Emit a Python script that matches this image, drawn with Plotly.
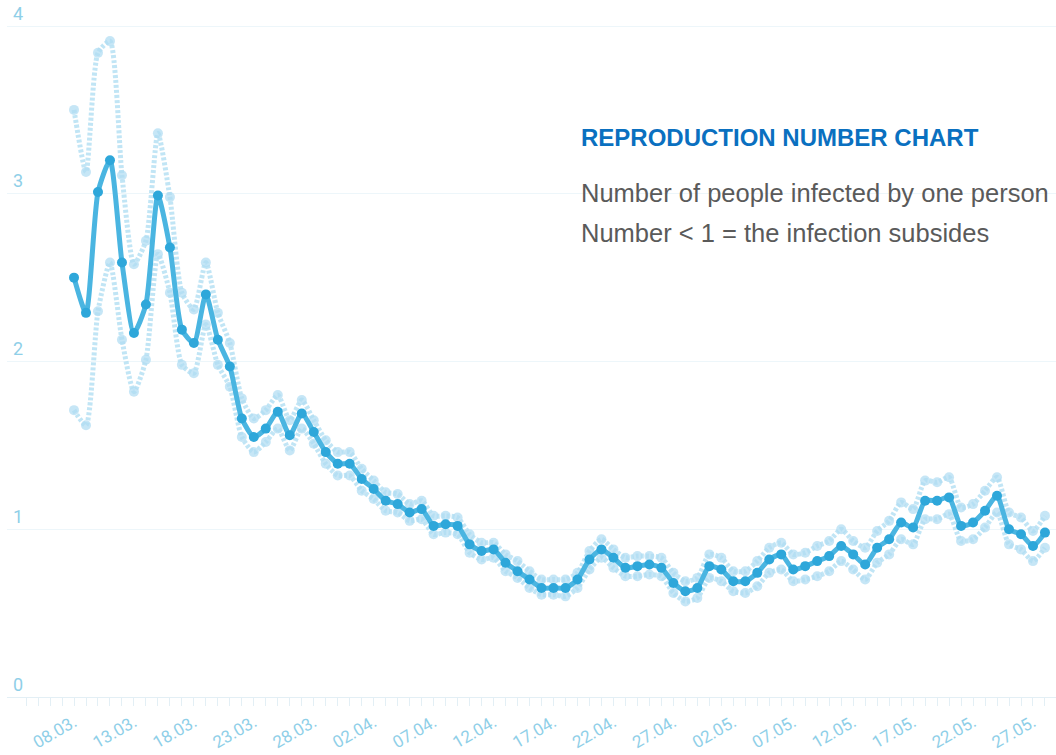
import pandas as pd
import plotly.graph_objects as go

start_date = "2020-03-08"
n_days = 82
dates = pd.date_range(start_date, periods=n_days, freq="D")

r_main = [2.50, 2.29, 3.01, 3.20, 2.59, 2.17, 2.34, 2.99, 2.68, 2.19,
          2.11, 2.40, 2.13, 1.97, 1.66, 1.55, 1.60, 1.70, 1.56, 1.69,
          1.58, 1.46, 1.39, 1.39, 1.30, 1.24, 1.17, 1.15, 1.10, 1.12,
          1.02, 1.03, 1.02, 0.91, 0.87, 0.88, 0.80, 0.75, 0.70, 0.65,
          0.65, 0.65, 0.70, 0.82, 0.88, 0.83, 0.77, 0.78, 0.79, 0.77,
          0.68, 0.63, 0.65, 0.78, 0.76, 0.69, 0.69, 0.74, 0.82, 0.85,
          0.76, 0.78, 0.81, 0.84, 0.90, 0.85, 0.79, 0.89, 0.94, 1.04,
          1.01, 1.17, 1.17, 1.19, 1.02, 1.04, 1.11, 1.20, 1.00, 0.97,
          0.90, 0.98]

r_upper = [3.50, 3.13, 3.84, 3.91, 3.11, 2.58, 2.72, 3.36, 2.98, 2.41,
           2.31, 2.59, 2.29, 2.11, 1.78, 1.66, 1.71, 1.80, 1.65, 1.77,
           1.65, 1.53, 1.46, 1.46, 1.36, 1.29, 1.22, 1.21, 1.15, 1.17,
           1.08, 1.08, 1.07, 0.97, 0.92, 0.92, 0.85, 0.81, 0.75, 0.70,
           0.70, 0.70, 0.74, 0.87, 0.94, 0.88, 0.83, 0.84, 0.84, 0.83,
           0.74, 0.69, 0.71, 0.85, 0.83, 0.75, 0.75, 0.81, 0.89, 0.92,
           0.85, 0.86, 0.90, 0.93, 1.00, 0.93, 0.89, 0.99, 1.05, 1.16,
           1.12, 1.29, 1.28, 1.31, 1.13, 1.15, 1.23, 1.31, 1.10, 1.07,
           0.99, 1.08]

r_lower = [1.71, 1.62, 2.30, 2.59, 2.13, 1.82, 2.01, 2.64, 2.41, 1.98,
           1.93, 2.22, 1.98, 1.85, 1.55, 1.46, 1.52, 1.60, 1.47, 1.60,
           1.51, 1.39, 1.32, 1.32, 1.23, 1.18, 1.11, 1.10, 1.05, 1.06,
           0.97, 0.98, 0.97, 0.86, 0.82, 0.83, 0.75, 0.71, 0.65, 0.61,
           0.61, 0.60, 0.65, 0.76, 0.83, 0.77, 0.72, 0.72, 0.73, 0.72,
           0.62, 0.57, 0.59, 0.71, 0.69, 0.63, 0.62, 0.66, 0.74, 0.76,
           0.69, 0.70, 0.72, 0.75, 0.81, 0.76, 0.70, 0.80, 0.85, 0.94,
           0.91, 1.06, 1.06, 1.09, 0.93, 0.94, 1.01, 1.10, 0.91, 0.88,
           0.81, 0.89]

y_ticks = [0, 1, 2, 3, 4]
title_text = "REPRODUCTION NUMBER CHART"
line1_text = "Number of people infected by one person"
line2_text = "Number < 1 = the infection subsides"

LIGHT_LINE = "rgba(178,223,243,0.8)"
LIGHT_MARK = "rgba(176,221,242,0.72)"
MAIN_LINE = "#4ab5e1"
MAIN_MARK = "#2ea7da"
AXIS_TXT = "#8fcfe8"
GRID = "#edf6fa"
AXIS_LINE = "#e3eff5"

fig = go.Figure()
for band in (r_upper, r_lower):
    fig.add_trace(go.Scatter(
        x=dates, y=band, mode="lines+markers",
        line=dict(color=LIGHT_LINE, width=5, dash="3px,2px", shape="spline", smoothing=0.6),
        marker=dict(color=LIGHT_MARK, size=10),
        hoverinfo="skip", showlegend=False))

fig.add_trace(go.Scatter(
    x=dates, y=r_main, mode="lines+markers",
    line=dict(color=MAIN_LINE, width=5, shape="spline", smoothing=0.6),
    marker=dict(color=MAIN_MARK, size=10),
    showlegend=False))

day_ms = 86400000
x0 = dates[0] - pd.Timedelta(hours=5.59 * 24)
x1 = dates[-1] + pd.Timedelta(hours=0.92 * 24)

fig.update_layout(
    width=1056, height=755,
    margin=dict(l=7, r=0, t=0, b=58),
    paper_bgcolor="white", plot_bgcolor="white",
    xaxis=dict(
        type="date", range=[x0, x1],
        tick0=start_date, dtick=5 * day_ms, tickformat="%d.%m.",
        tickangle=-30, ticks="outside", ticklen=8, tickcolor=AXIS_LINE,
        showline=True, linecolor=AXIS_LINE, linewidth=1,
        showgrid=False, zeroline=False,
        tickfont=dict(family="Roboto", size=17, color=AXIS_TXT),
        minor=dict(dtick=day_ms, ticks="outside", ticklen=8, tickcolor=AXIS_LINE, showgrid=False),
    ),
    yaxis=dict(
        range=[0, 4.155], tickvals=y_ticks, ticklabelposition="inside top",
        ticklabelstandoff=3,
        showgrid=True, gridcolor=GRID, gridwidth=1,
        zeroline=False, showline=False, ticks="",
        tickfont=dict(family="Roboto", size=18, color=AXIS_TXT),
    ),
    annotations=[
        dict(text=title_text, xref="paper", yref="paper", x=0.545, y=0.8034,
             xanchor="left", yanchor="middle", showarrow=False,
             font=dict(family="Liberation Sans", size=24, color="#0a70c0", weight="bold")),
        dict(text=line1_text, xref="paper", yref="paper", x=0.545, y=0.7231,
             xanchor="left", yanchor="middle", showarrow=False,
             font=dict(family="Liberation Sans", size=25.5, color="#5a5a5a")),
        dict(text=line2_text, xref="paper", yref="paper", x=0.545, y=0.6657,
             xanchor="left", yanchor="middle", showarrow=False,
             font=dict(family="Liberation Sans", size=25.5, color="#5a5a5a")),
    ],
)

fig.write_html("out.html", config={"displayModeBar": False},
               post_script="document.body.style.margin='0px';")
